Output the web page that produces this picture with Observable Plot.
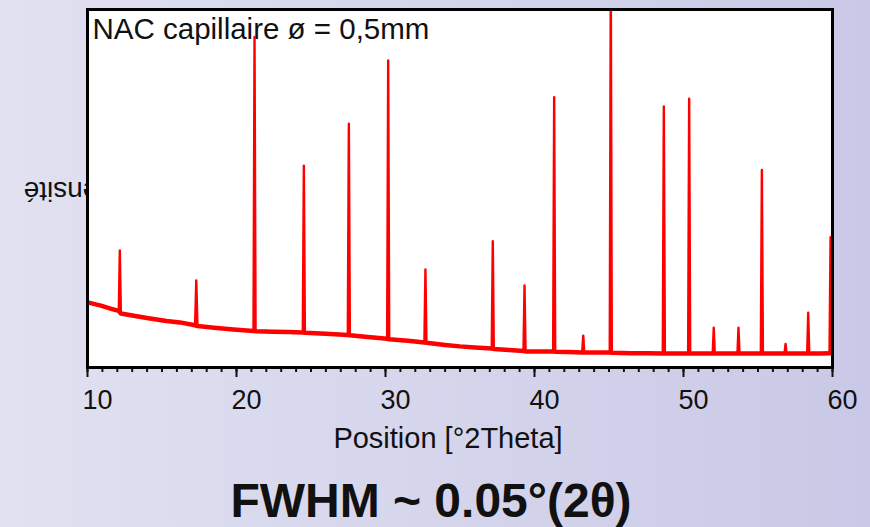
<!DOCTYPE html>
<html>
<head>
<meta charset="utf-8">
<script src="https://cdn.jsdelivr.net/npm/d3@7"></script>
<script src="https://cdn.jsdelivr.net/npm/@observablehq/plot@0.6"></script>
<style>
  html, body { margin: 0; padding: 0; width: 870px; height: 527px; overflow: hidden; }
  body { background: linear-gradient(to right, #e1e1f1, #c9c9e7); font-family: "Liberation Sans", Arial, sans-serif; }
  #chart svg { display: block; }
  #caption { height: 62px; line-height: 60px; padding-top: 6px; box-sizing: border-box; text-align: center; padding-right: 8px;
    font-weight: bold; font-size: 48px; color: #111; }
</style>
</head>
<body>
<div id="chart"></div>
<div id="caption">FWHM ~ 0.05°(2θ)</div>
<script>
const title = "NAC capillaire ø = 0,5mm";
const yLabel = "Intensité";
const xLabel = "Position [°2Theta]";
const majorTicks = [10, 20, 30, 40, 50, 60];
const minorTicks = [10,11,12,13,14,15,16,17,18,19,20,21,22,23,24,25,26,27,28,29,30,31,32,33,34,35,36,37,38,39,40,41,42,43,44,45,46,47,48,49,50,51,52,53,54,55,56,57,58,59,60];

// background vertices (incl. peak bases)
const bgTheta = [10.0, 10.9, 11.6, 12.10, 12.24, 13.2, 14.2, 15.3, 16.2, 17.22, 17.38, 18.5, 19.8, 21.14, 21.28, 22.5, 23.5, 24.45, 24.59, 26.0, 27.47, 27.61, 28.8, 30.11, 30.25, 31.5, 32.61, 32.75, 34.0, 35.0, 36.0, 37.13, 37.27, 38.3, 39.26, 39.40, 40.3, 41.25, 41.39, 42.3, 43.20, 43.34, 44.2, 45.05, 45.19, 46.5, 47.6, 48.61, 48.75, 49.5, 50.31, 50.45, 51.2, 51.96, 52.10, 52.9, 53.62, 53.76, 54.5, 55.19, 55.33, 56.1, 56.78, 56.92, 57.6, 58.30, 58.44, 59.2, 59.80, 59.94];
const bgIntensity = [18.2, 17.3, 16.4, 15.8, 15.1, 14.4, 13.7, 13.0, 12.6, 11.8, 11.6, 11.1, 10.6, 10.2, 10.1, 10.0, 9.9, 9.8, 9.7, 9.4, 9.1, 9.0, 8.5, 8.0, 7.9, 7.5, 7.0, 6.9, 6.3, 5.9, 5.6, 5.3, 5.2, 4.9, 4.6, 4.5, 4.5, 4.5, 4.4, 4.3, 4.2, 4.2, 4.2, 4.2, 4.1, 4.0, 4.0, 3.9, 3.9, 3.9, 3.9, 3.9, 3.9, 3.9, 3.9, 3.9, 3.9, 3.9, 3.9, 3.9, 3.9, 3.9, 3.9, 3.9, 3.9, 3.9, 3.9, 3.9, 4.0, 4.0];

// peak tops
const peakTheta = [12.17, 17.30, 21.21, 24.52, 27.54, 30.18, 32.68, 37.20, 39.33, 41.32, 43.27, 45.12, 48.68, 50.38, 52.03, 53.69, 55.26, 56.85, 58.37, 59.87];
const peakIntensity = [32.7, 24.3, 92.3, 56.4, 68.1, 85.8, 27.4, 35.3, 22.9, 75.5, 8.9, 110, 72.9, 75.1, 11.1, 11.1, 55.2, 6.6, 15.3, 36.4];

const bg = bgTheta.map((t, i) => ({theta: t, intensity: bgIntensity[i]}));
const peaks = peakTheta.map((t, i) => ({theta: t, intensity: peakIntensity[i]}));
const pattern = bg.concat(peaks).sort((a, b) => a.theta - b.theta);

const chart = Plot.plot({
  width: 870,
  height: 465,
  marginTop: 9,
  marginBottom: 98,
  marginLeft: 87,
  marginRight: 38,
  style: {background: "transparent", fontFamily: "'Liberation Sans', Arial, sans-serif", color: "#111"},
  x: {domain: [10, 60]},
  y: {domain: [0, 100], axis: null},
  marks: [
    Plot.text([yLabel], {frameAnchor: "left", dx: 42, dy: 2, rotate: 180, textAnchor: "start", lineAnchor: "middle", fontSize: 28, fill: "#111"}),
    Plot.frame({fill: "white"}),
    Plot.line(bg, {x: "theta", y: "intensity", stroke: "#ff0000", strokeWidth: 4.5, clip: true}),
    Plot.line(pattern, {x: "theta", y: "intensity", stroke: "#ff0000", strokeWidth: 2.4, clip: true}),
    Plot.text([title], {frameAnchor: "top-left", dx: 5, dy: 9, lineAnchor: "top", fontSize: 29.5, fill: "#111"}),
    Plot.axisX({ticks: minorTicks, tickSize: 5, strokeWidth: 2, tickFormat: () => "", label: null}),
    Plot.axisX({ticks: majorTicks, tickSize: 10, strokeWidth: 2, tickFormat: () => "", label: null}),
    Plot.axisX({ticks: majorTicks, tickSize: 0, tickPadding: 22, fontSize: 27, dx: 10, label: null, tickFormat: d => String(d)}),
    Plot.text([xLabel], {frameAnchor: "bottom", dx: -12, dy: 71, lineAnchor: "middle", fontSize: 29, fill: "#111"}),
    Plot.frame({stroke: "#000", strokeWidth: 3})
  ]
});
document.getElementById("chart").appendChild(chart);
</script>
</body>
</html>
